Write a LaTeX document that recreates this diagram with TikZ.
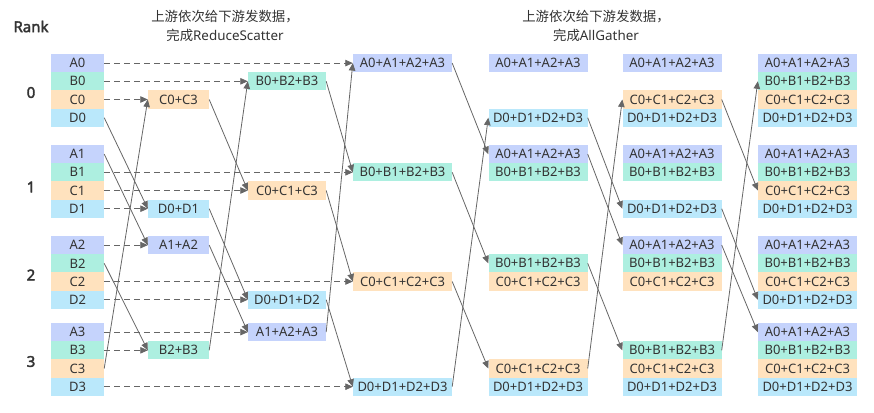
\documentclass[tikz,border=0pt]{standalone}
\usepackage{fontspec}
\setmainfont{Noto Sans}[AutoFakeBold=2.5]
\newfontfamily\cjk{Noto Sans CJK SC}
\usetikzlibrary{arrows.meta}

\definecolor{colA}{HTML}{C5D3FC}
\definecolor{colB}{HTML}{ADEFE0}
\definecolor{colC}{HTML}{FFE2BE}
\definecolor{colD}{HTML}{BAE8FB}
\definecolor{txt}{HTML}{333333}
\definecolor{wire}{HTML}{666666}

\tikzset{
	cell/.style={inner sep=0pt, minimum height=18.2pt, text=txt, font=\fontsize{13}{13}\selectfont},
	cellA/.style={cell, fill=colA},
	cellB/.style={cell, fill=colB},
	cellC/.style={cell, fill=colC},
	cellD/.style={cell, fill=colD},
	w0/.style={minimum width=53pt},
	w1/.style={minimum width=61pt},
	w2/.style={minimum width=78pt},
	w3/.style={minimum width=99pt},
	link/.style={draw=wire, line width=0.8pt, -{Triangle[length=7.5pt,width=6.5pt]}},
	hop/.style={link, dash pattern=on 6pt off 4pt},
	ranklabel/.style={text=txt, font=\fontsize{15}{15}\selectfont\bfseries},
	caption/.style={text=txt, align=center, font=\fontsize{13.4}{19}\selectfont}
}

\begin{document}
\begin{tikzpicture}[x=1pt,y=-1pt]

	\useasboundingbox (0,0) rectangle (874,412);

	% ---- coordinates

	\coordinate (X0) at (77.5,0);
	\coordinate (X1) at (178.5,0);
	\coordinate (X2) at (287,0);
	\coordinate (X3) at (402.5,0);
	\coordinate (X4) at (538,0);
	\coordinate (X5) at (672,0);
	\coordinate (X6) at (807.5,0);

	\foreach \i/\top in {0/54,1/145,2/236,3/323} {
		\foreach \j in {0,...,3} { \coordinate (Y\i\j) at (0,{\top+18.2*\j+9.1}); }
	}

	% ---- labels

	\node[ranklabel] (rank) at (31,26.5) {Rank};
	\foreach \i/\y in {0/92.5,1/187,2/275,3/361.5} { \node[ranklabel] (rank\i) at (31,\y) {\i}; }

	\node[caption] (title1) at (225,26) {{\cjk 上游依次给下游发数据，}\\{\cjk 完成}ReduceScatter};
	\node[caption] (title2) at (596,26) {{\cjk 上游依次给下游发数据，}\\{\cjk 完成}AllGather};

	% ---- initial data

	\foreach \i in {0,...,3} {
		\foreach \j/\ltr in {0/A,1/B,2/C,3/D} { \node[cell\ltr, w0] (n0-\i-\j) at (X0 |- Y\i\j) {\ltr\i}; }
	}

	% ---- reduce scatter

	\node[cellC, w1] (n1-0-2) at (X1 |- Y02) {C0+C3};
	\node[cellD, w1] (n1-1-3) at (X1 |- Y13) {D0+D1};
	\node[cellA, w1] (n1-2-0) at (X1 |- Y20) {A1+A2};
	\node[cellB, w1] (n1-3-1) at (X1 |- Y31) {B2+B3};

	\node[cellB, w2] (n2-0-1) at (X2 |- Y01) {B0+B2+B3};
	\node[cellC, w2] (n2-1-2) at (X2 |- Y12) {C0+C1+C3};
	\node[cellD, w2] (n2-2-3) at (X2 |- Y23) {D0+D1+D2};
	\node[cellA, w2] (n2-3-0) at (X2 |- Y30) {A1+A2+A3};

	\foreach \i/\ltr in {0/A,1/B,2/C,3/D} { \node[cell\ltr, w3] (n3-\i-\i) at (X3 |- Y\i\i) {\ltr0+\ltr1+\ltr2+\ltr3}; }

	% ---- all gather

	\foreach \i/\j/\ltr in {0/0/A,0/3/D,1/0/A,1/1/B,2/1/B,2/2/C,3/2/C,3/3/D} {
		\node[cell\ltr, w3] (n4-\i-\j) at (X4 |- Y\i\j) {\ltr0+\ltr1+\ltr2+\ltr3};
	}
	\foreach \i/\j/\ltr in {0/0/A,0/2/C,0/3/D,1/0/A,1/1/B,1/3/D,2/0/A,2/1/B,2/2/C,3/1/B,3/2/C,3/3/D} {
		\node[cell\ltr, w3] (n5-\i-\j) at (X5 |- Y\i\j) {\ltr0+\ltr1+\ltr2+\ltr3};
	}
	\foreach \i in {0,...,3} {
		\foreach \j/\ltr in {0/A,1/B,2/C,3/D} { \node[cell\ltr, w3] (n6-\i-\j) at (X6 |- Y\i\j) {\ltr0+\ltr1+\ltr2+\ltr3}; }
	}

	% ---- reduce scatter arrows

	\foreach \k in {1,2,3} {
		\foreach \i in {0,...,3} {
			\pgfmathtruncatemacro\slot{mod(\i+3-\k,4)}
			\pgfmathtruncatemacro\prevrank{mod(\i+3,4)}
			\pgfmathtruncatemacro\colfrom{\k-1}
			\draw[hop] (n0-\i-\slot.east) -- (n\k-\i-\slot.west);
			\draw[link] (n\colfrom-\prevrank-\slot.east) -- (n\k-\i-\slot.west);
		}
	}

	% ---- all gather arrows

	\foreach \m in {0,1,2} {
		\foreach \i in {0,...,3} {
			\pgfmathtruncatemacro\slot{mod(\i-\m+4,4)}
			\pgfmathtruncatemacro\nextrank{mod(\i+1,4)}
			\pgfmathtruncatemacro\colfrom{3+\m}
			\pgfmathtruncatemacro\colto{4+\m}
			\draw[link] (n\colfrom-\i-\slot.east) -- (n\colto-\nextrank-\slot.west);
		}
	}

\end{tikzpicture}
\end{document}
